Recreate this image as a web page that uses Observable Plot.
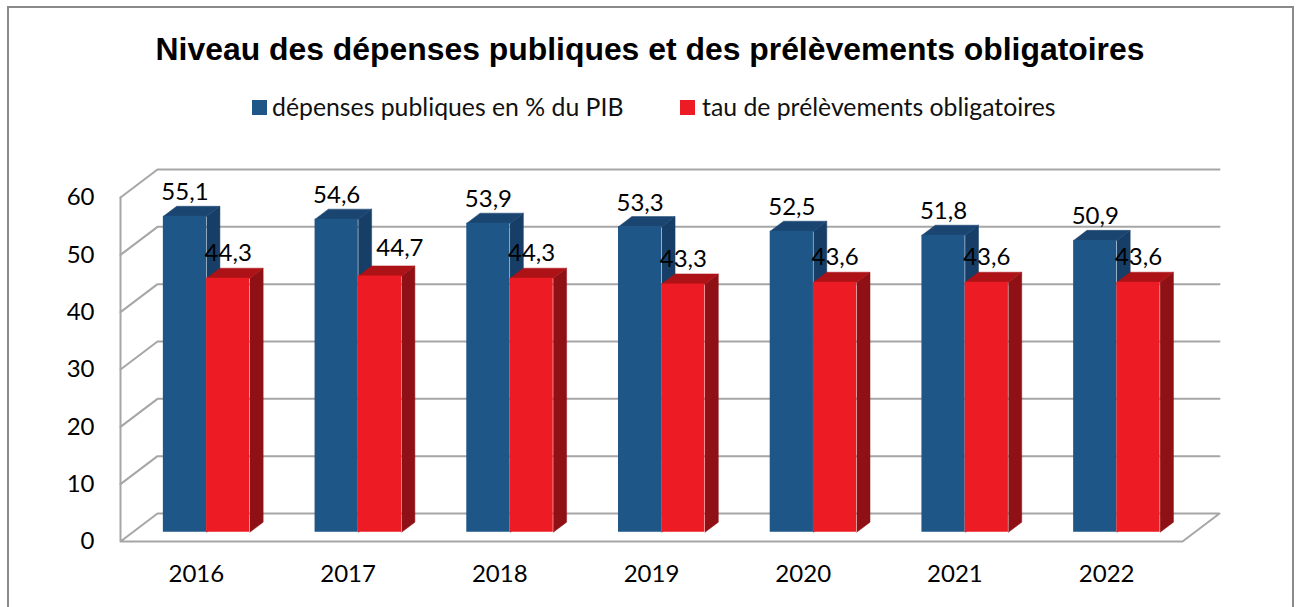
<!DOCTYPE html>
<html lang="fr">
<head>
<meta charset="utf-8">
<script src="https://cdn.jsdelivr.net/npm/d3@7"></script>
<script src="https://cdn.jsdelivr.net/npm/@observablehq/plot@0.6"></script>
<style>
html,body{margin:0;padding:0;background:#fff;width:1298px;height:607px;overflow:hidden}
#frame{position:absolute;left:7px;top:6px;width:1287px;height:620px;border:2px solid #8a8a8a;box-sizing:border-box}
#title{position:absolute;left:0;width:1300px;top:31px;text-align:center;font:bold 31.9px/36px "Liberation Sans",Arial,sans-serif;color:#000}
.lg{position:absolute;top:93px;font:24.8px/28px Lato,sans-serif;color:#111;white-space:nowrap}
.sw{position:absolute;top:100px;width:15px;height:15px}
#chart{position:absolute;left:0;top:150px}
</style>
</head>
<body>
<div id="frame"></div>
<div id="title">Niveau des dépenses publiques et des prélèvements obligatoires</div>
<div class="sw" style="left:252px;background:#1f5688"></div><div class="lg" style="left:272px">dépenses publiques en % du PIB</div>
<div class="sw" style="left:680px;background:#ed1c24"></div><div class="lg" style="left:702px">tau de prélèvements obligatoires</div>
<div id="chart"></div>
<script>
const years = [2016, 2017, 2018, 2019, 2020, 2021, 2022];
const depenses = [55.1, 54.6, 53.9, 53.3, 52.5, 51.8, 50.9];
const prelevements = [44.3, 44.7, 44.3, 43.3, 43.6, 43.6, 43.6];
const gridValues = [0, 10, 20, 30, 40, 50, 60];

const fmt = d => d.toFixed(1).replace(".", ",");

// Pseudo-3D projection in data units: depth d in [0,1] shifts x and y
const DX = 37 / 151.7, DY = 28 / 5.733;
const P = (u, v, d) => ({x: u + d * DX, y: v + d * DY});
const D0 = 0.33, D1 = 0.69;          // bar depth span
const W = 0.285, SHIFT = -0.013;     // bar width, centre shift
const base = D0 * DY, xShift = D0 * DX;

function poly(list, face) {
  return list.flatMap((b, k) => face(b).map(p => ({...p, id: k})));
}
const bars = (vals, side) => vals.map((v, i) => {
  const c = i + 0.5 + SHIFT;
  return {v, x1: side < 0 ? c - W : c, x2: side < 0 ? c : c + W, year: years[i]};
});
const blue = bars(depenses, -1), red = bars(prelevements, 1);

const sideFace = b => [P(b.x2, 0, D0), P(b.x2, 0, D1), P(b.x2, b.v, D1), P(b.x2, b.v, D0)];
const topFace = b => [P(b.x1, b.v, D0), P(b.x1, b.v, D1), P(b.x2, b.v, D1), P(b.x2, b.v, D0)];

const back = gridValues.filter(v => v > 0).flatMap(v => [
  {...P(0, v, 0), id: v}, {...P(0, v, 1), id: v}, {...P(7, v, 1), id: v}
]);
const floor = [P(0, 60, 0), P(0, 0, 0), P(7, 0, 0), P(7, 0, 1), P(0, 0, 1), P(0, 0, 0)];

const faceMark = (list, face, color) =>
  Plot.line(poly(list, face), {x: "x", y: "y", z: "id", fill: color, stroke: color, strokeWidth: 0.5});
const frontMark = (list, color) =>
  Plot.rect(list, {x1: d => d.x1 + xShift, x2: d => d.x2 + xShift, y1: () => base, y2: d => d.v + base, fill: color});
const labelStyle = {text: d => fmt(d.v), lineAnchor: "bottom", fill: "#000", fontSize: 24};
const labelX = d => (d.x1 + d.x2) / 2 + xShift;

const chart = Plot.plot({
  width: 1298,
  height: 457,
  marginLeft: 120,
  marginRight: 116,
  marginTop: 47,
  marginBottom: 66,
  x: {domain: [0, 7], range: [120, 1182]},
  y: {domain: [0, 60], range: [391, 47]},
  style: {fontFamily: "Lato, sans-serif", fontSize: "24px", background: "transparent", overflow: "visible"},
  marks: [
    Plot.line(back, {x: "x", y: "y", z: "id", stroke: "#a6a6a6", strokeWidth: 2}),
    Plot.line(floor, {x: "x", y: "y", stroke: "#a6a6a6", strokeWidth: 2}),
    faceMark(blue, sideFace, "#163e66"),
    faceMark(blue, topFace, "#1a4570"),
    frontMark(blue, "#1f5688"),
    faceMark(red, sideFace, "#8f1115"),
    faceMark(red, topFace, "#ad1217"),
    frontMark(red, "#ed1c24"),
    Plot.axisY({ticks: gridValues, tickSize: 0, tickPadding: 26, tickFormat: d => String(d), label: null, fontSize: 24, fill: "#000"}),
    Plot.axisX({ticks: years.map((_, i) => i + 0.5), tickFormat: (_, i) => String(years[i]), tickSize: 0, tickPadding: 23, label: null, fontSize: 24, fill: "#000"}),
    Plot.text(blue, {...labelStyle, x: labelX, y: d => d.v + base, dy: -16}),
    Plot.text(red.filter(d => d.year !== 2017), {...labelStyle, x: labelX, y: d => d.v + base, dy: -17}),
    Plot.text(red.filter(d => d.year === 2017), {...labelStyle, x: labelX, y: d => d.v + base, dx: 20, dy: -20})
  ]
});
document.getElementById("chart").append(chart);
</script>
</body>
</html>
